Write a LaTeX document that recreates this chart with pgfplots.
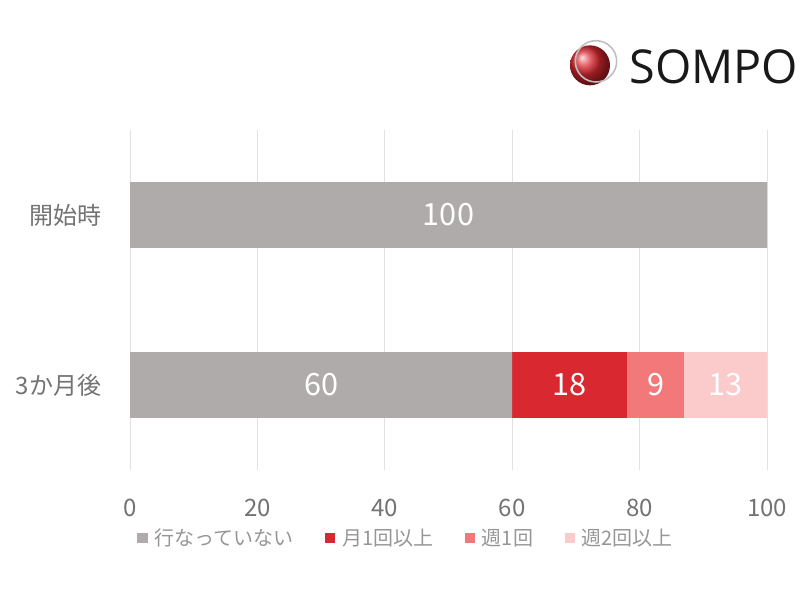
\documentclass[border=0pt]{standalone}
\usepackage{pgfplots}
\pgfplotsset{compat=1.18}
\usepackage{fontspec}
\setmainfont{Noto Sans CJK JP}
\newfontfamily\logofont{Open Sans}
\definecolor{cgray}{RGB}{175,171,171}
\definecolor{cred}{RGB}{217,40,47}
\definecolor{cmid}{RGB}{242,120,122}
\definecolor{clight}{RGB}{251,202,202}
\definecolor{tickgray}{RGB}{115,115,115}
\definecolor{leggray}{RGB}{150,150,150}
\definecolor{gridc}{RGB}{225,225,225}
\begin{document}
\begin{tikzpicture}
\path[use as bounding box] (0pt,0pt) rectangle (600pt,450pt);
% logo
\shade[ball color=cred] (442.5pt,401pt) circle (15pt);
\draw[black!25, line width=1.2pt] (447pt,404pt) circle (15.5pt);
\node[anchor=west, inner sep=0pt, font=\logofont\fontsize{35}{37}\selectfont, text=black!90] at (472pt,400pt) {SOMPO};
\begin{axis}[
  at={(97.5pt,97.5pt)}, anchor=south west, scale only axis,
  width=477.75pt, height=255pt,
  xmin=0, xmax=100, ymin=-0.5, ymax=1.5,
  xbar stacked, bar width=0.388,
  ytick={0,1}, yticklabels={3か月後,開始時},
  xtick={0,20,...,100},
  xmajorgrids, major grid style={draw=gridc, line width=0.6pt},
  axis line style={draw=none}, tick style={draw=none},
  /pgf/number format/assume math mode=true,
  xticklabel style={font=\fontsize{18}{20}\selectfont, text=tickgray, yshift=-18pt},
  yticklabel style={font=\fontsize{18}{20}\selectfont, text=tickgray, xshift=-18pt},
  legend columns=4,
  legend style={at={(0.005,-0.2)}, anchor=west, draw=none, fill=none,
    font=\fontsize{15}{17}\selectfont, text=leggray,
    /tikz/every odd column/.append style={column sep=3pt},
    /tikz/every even column/.append style={column sep=22pt}},
  legend image code/.code={\fill[#1] (0pt,-3.8pt) rectangle (7.6pt,3.8pt);},
]
\addplot[fill=cgray, draw=none] coordinates {(100,1) (60,0)};
\addlegendentry{行なっていない}
\addplot[fill=cred, draw=none] coordinates {(0,1) (18,0)};
\addlegendentry{月1回以上}
\addplot[fill=cmid, draw=none] coordinates {(0,1) (9,0)};
\addlegendentry{週1回}
\addplot[fill=clight, draw=none] coordinates {(0,1) (13,0)};
\addlegendentry{週2回以上}
\end{axis}
\begin{axis}[
  at={(97.5pt,97.5pt)}, anchor=south west, scale only axis,
  width=477.75pt, height=255pt,
  xmin=0, xmax=100, ymin=-0.5, ymax=1.5, hide axis,
]
\addplot[draw=none, mark=none, nodes near coords, point meta=explicit symbolic,
  nodes near coords style={anchor=center, text=white, font=\fontsize{23}{25}\selectfont}]
  coordinates {(50,1)[100] (30,0)[60] (69,0)[18] (82.5,0)[9] (93.5,0)[13]};
\end{axis}
\end{tikzpicture}
\end{document}
